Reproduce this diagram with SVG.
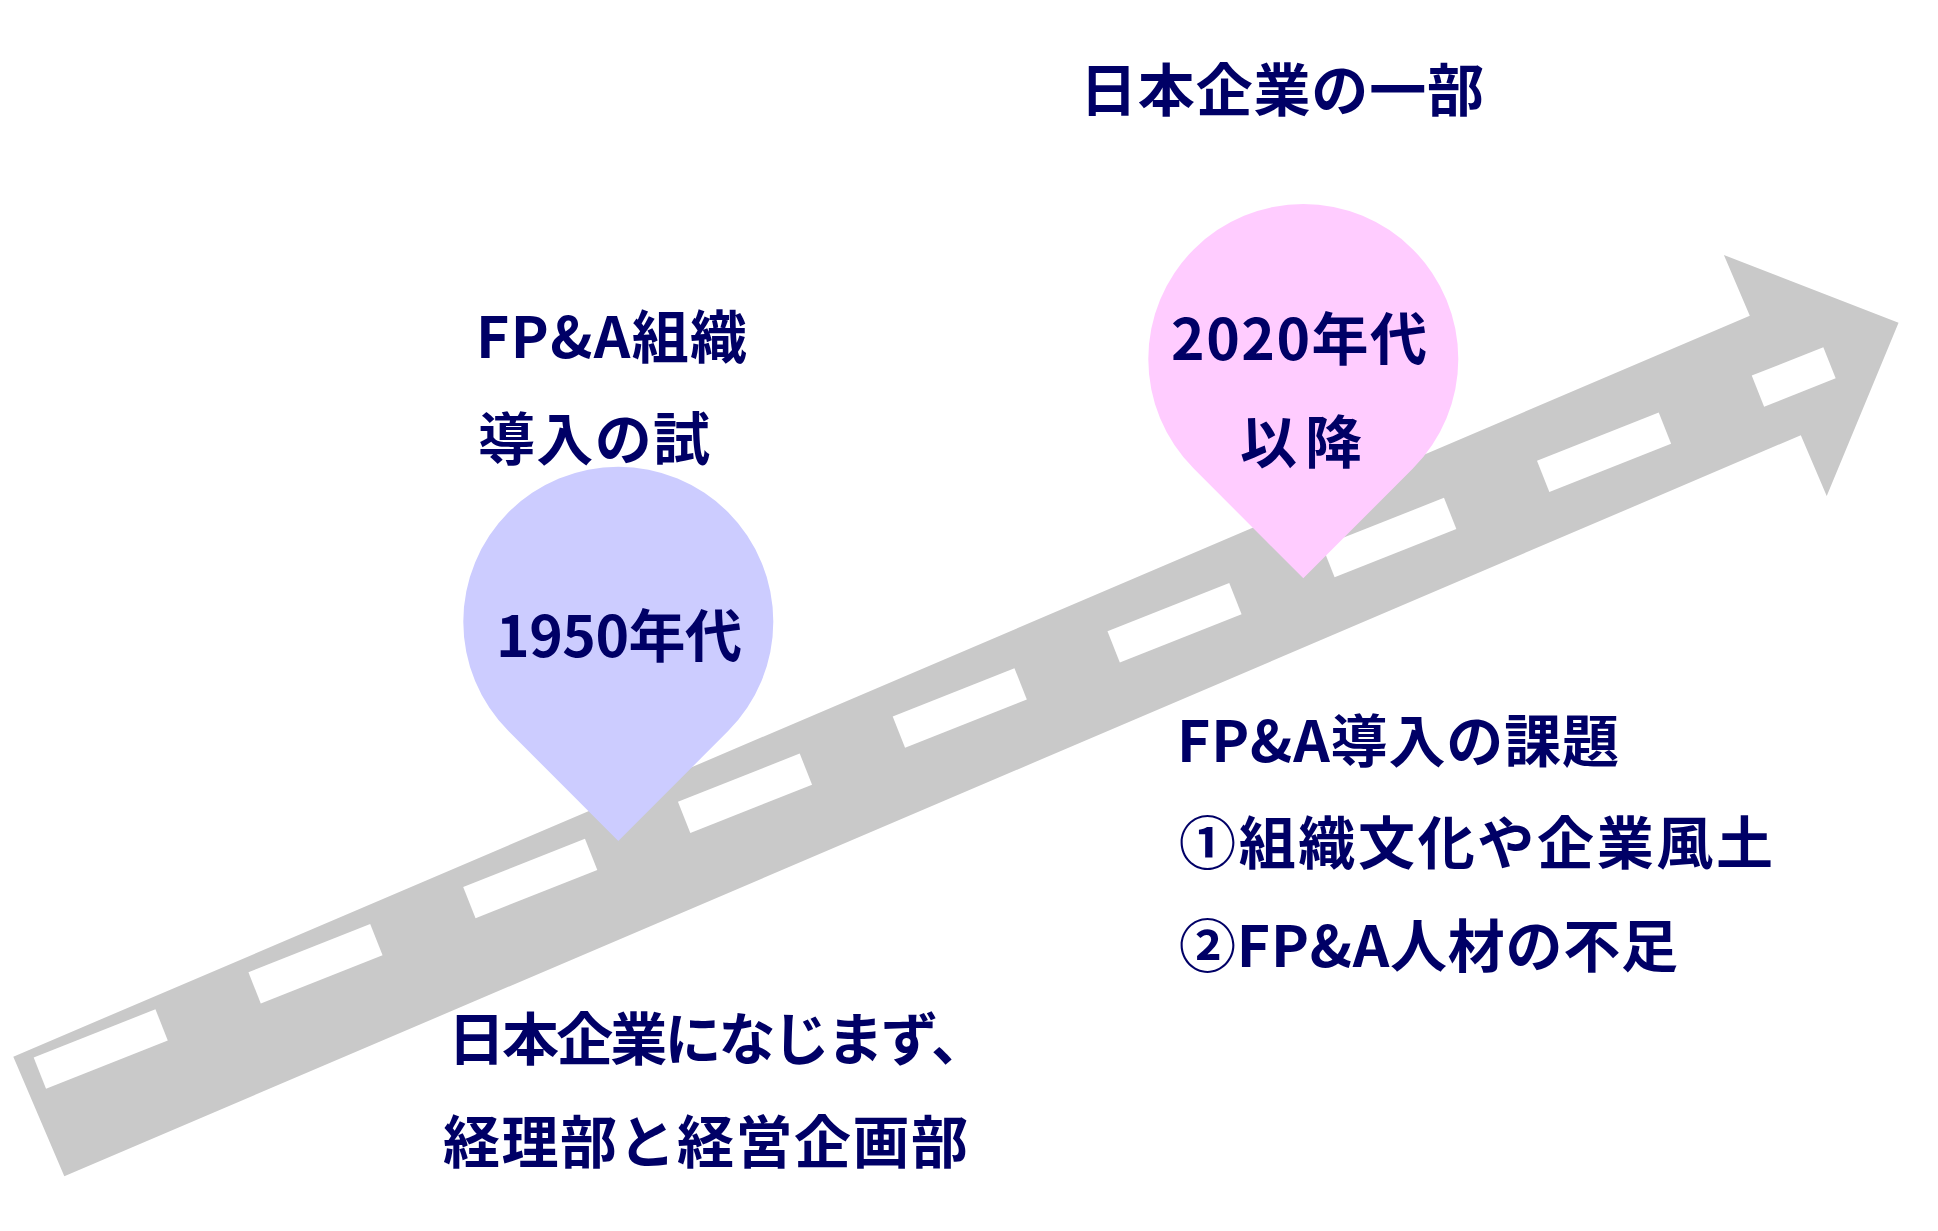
<svg xmlns="http://www.w3.org/2000/svg" width="1938" height="1231" viewBox="0 0 1938 1231">
<style>
.t{font-family:"Noto Sans CJK JP","Noto Sans CJK SC",sans-serif;font-weight:bold;font-size:57px;fill:#000066}
.road{fill:#C9C9C9}
.dash{fill:#FFFFFF}
</style>
<rect width="1938" height="1231" fill="#FFFFFF"/>
<g id="road">
<polygon class="road" transform="translate(13.3,1056.7) rotate(-23.11)" points="0,0 1888,0 1888,-66 2022,65 1888,196 1888,130 0,130"/>
<g transform="translate(39.85,1073.15) rotate(-21.65)">
<rect class="dash" x="0" y="-16.75" width="131" height="33.5"/>
<rect class="dash" x="231.06" y="-16.75" width="131" height="33.5"/>
<rect class="dash" x="462.12" y="-16.75" width="131" height="33.5"/>
<rect class="dash" x="693.18" y="-16.75" width="131" height="33.5"/>
<rect class="dash" x="924.24" y="-16.75" width="131" height="33.5"/>
<rect class="dash" x="1155.3" y="-16.75" width="131" height="33.5"/>
<rect class="dash" x="1386.36" y="-16.75" width="131" height="33.5"/>
<rect class="dash" x="1617.42" y="-16.75" width="131" height="33.5"/>
<rect class="dash" x="1848.48" y="-16.75" width="77" height="33.5"/>
</g>
</g>
<g id="pin1950">
<path fill="#CCCCFF" d="M618.3,840.9 L508.7,731.3 A155,155 0 1 1 727.9,731.3 Z"/>
<text class="t" x="496" y="657" textLength="246" lengthAdjust="spacing">1950年代</text>
</g>
<g id="pin2020">
<path fill="#FFCCFF" d="M1303.3,578.2 L1193.7,468.6 A155,155 0 1 1 1412.9,468.6 Z"/>
<text class="t" x="1171" y="360" textLength="256" lengthAdjust="spacing">2020年代</text>
<text class="t" x="1240" y="463" textLength="122" lengthAdjust="spacing">以降</text>
</g>
<g id="label-top">
<text class="t" x="1080" y="111" textLength="404" lengthAdjust="spacing">日本企業の一部</text>
</g>
<g id="label-1950">
<text class="t" x="476" y="358" textLength="271" lengthAdjust="spacing">FP&amp;A組織</text>
<text class="t" x="478" y="460" textLength="232" lengthAdjust="spacing">導入の試</text>
</g>
<g id="label-bottom">
<text class="t" x="448" y="1060" textLength="540" lengthAdjust="spacing">日本企業になじまず、</text>
<text class="t" x="443" y="1163" textLength="525" lengthAdjust="spacing">経理部と経営企画部</text>
</g>
<g id="label-right">
<text class="t" x="1177" y="762" textLength="442" lengthAdjust="spacing">FP&amp;A導入の課題</text>
<text class="t" x="1179" y="864" textLength="594" lengthAdjust="spacing">①組織文化や企業風土</text>
<text class="t" x="1179" y="967" textLength="499" lengthAdjust="spacing">②FP&amp;A人材の不足</text>
</g>
<g id="connectors"/>
</svg>
